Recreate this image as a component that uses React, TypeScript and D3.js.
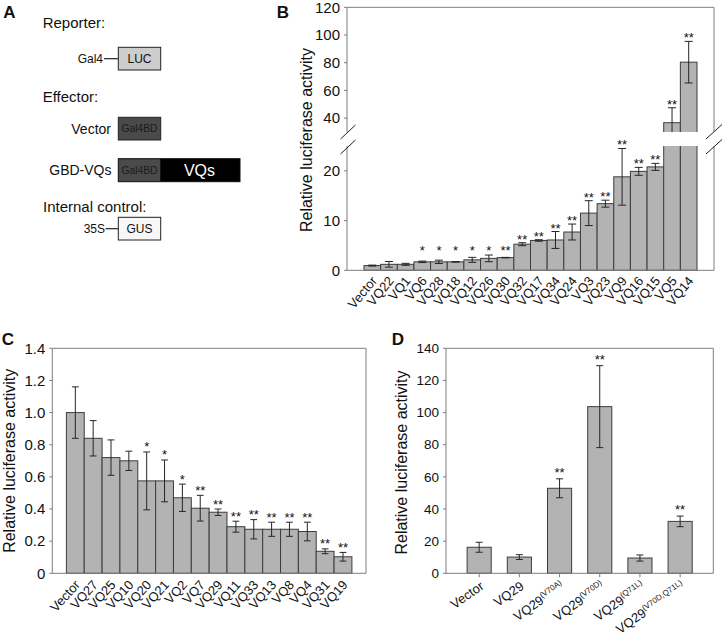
import React from "react";
import * as d3 from "d3";

// ---------- Panel B data ----------
const catsB = ["Vector","VQ22","VQ1","VQ6","VQ28","VQ18","VQ12","VQ26","VQ30","VQ32","VQ17","VQ34","VQ24","VQ3","VQ23","VQ9","VQ16","VQ15","VQ5","VQ14"];
const valsB = [0.95,1.2,1.2,1.7,1.7,1.7,2.1,2.4,2.55,5.25,6.0,6.1,7.7,11.5,13.4,18.8,19.9,20.8,36.7,80.4];
const errsB = [0.1,0.57,0.2,0.15,0.34,0.05,0.5,0.67,0.05,0.3,0.15,1.7,1.6,2.5,0.7,5.7,0.8,0.7,10.8,15];
const sigB = ["","","","*","*","*","*","*","**","**","**","**","**","**","**","**","**","**","**","**"];
const ticksBLow = [0,10,20];
const ticksBHigh = [40,60,80,100,120];

// ---------- Panel C data ----------
const catsC = ["Vector","VQ27","VQ25","VQ10","VQ20","VQ21","VQ2","VQ7","VQ29","VQ11","VQ33","VQ13","VQ8","VQ4","VQ31","VQ19"];
const valsC = [1.0,0.84,0.72,0.70,0.575,0.575,0.47,0.405,0.38,0.29,0.274,0.274,0.274,0.26,0.137,0.103];
const errsC = [0.16,0.11,0.11,0.06,0.18,0.13,0.085,0.08,0.02,0.034,0.06,0.044,0.044,0.058,0.015,0.027];
const sigC = ["","","","","*","*","*","**","**","**","**","**","**","**","**","**"];
const ticksC = [0,0.2,0.4,0.6,0.8,1.0,1.2,1.4];

// ---------- Panel D data ----------
const catsD = ["Vector","VQ29","VQ29(V70A)","VQ29(V70D)","VQ29(Q71L)","VQ29(V70D,Q71L)"];
const mainD = ["Vector","VQ29","VQ29","VQ29","VQ29","VQ29"];
const supD = ["","","(V70A)","(V70D)","(Q71L)","(V70D,Q71L)"];
const valsD = [16.2,10.1,52.9,103.7,9.5,32.3];
const errsD = [3.1,1.5,5.9,25.5,1.9,3.3];
const sigD = ["","","**","**","","**"];
const ticksD = [0,20,40,60,80,100,120,140];

const FONT = "'Liberation Sans', Arial, Helvetica, sans-serif";
const BAR_FILL = "#b3b3b3";
const BAR_STROKE = "#3d3d3d";
const AXIS = "#7d7d7d";
const ERR = "#262626";
const TXT = "#111";

function PanelA() {
  return (
    <g fontFamily={FONT} fill={TXT}>
      <text x={3.3} y={18.3} fontSize={17} fontWeight="bold">A</text>
      <text x={42.7} y={28.3} fontSize={15}>Reporter:</text>
      <text x={103} y={62.7} fontSize={12} textAnchor="end">Gal4</text>
      <line x1={104} x2={118.3} y1={58.7} y2={58.7} stroke="#222" strokeWidth={1.2} />
      <rect x={118.3} y={47.3} width={42.4} height={22.7} fill="#cdcdcd" stroke="#222" strokeWidth={1} />
      <text x={139.5} y={63} fontSize={12} textAnchor="middle">LUC</text>

      <text x={42.7} y={101.7} fontSize={15}>Effector:</text>
      <text x={111} y={133.5} fontSize={14} textAnchor="end">Vector</text>
      <rect x={118.3} y={117.3} width={42.4} height={22.7} fill="#4a4a4a" stroke="#222" strokeWidth={1} />
      <text x={139.5} y={132.3} fontSize={10.3} textAnchor="middle" fill="#1a1a1a">Gal4BD</text>

      <text x={111.5} y={175.2} fontSize={14} textAnchor="end">GBD-VQs</text>
      <rect x={118.3} y={158.7} width={121.7} height={23} fill="#000" stroke="#111" strokeWidth={1} />
      <rect x={118.8} y={159.2} width={41.5} height={22} fill="#4a4a4a" />
      <text x={139.5} y={173.8} fontSize={10.3} textAnchor="middle" fill="#1a1a1a">Gal4BD</text>
      <text x={199.5} y={176} fontSize={16} textAnchor="middle" fill="#fff">VQs</text>

      <text x={43} y={211.7} fontSize={15}>Internal control:</text>
      <text x={105} y={233} fontSize={12} textAnchor="end">35S</text>
      <line x1={105.5} x2={118.3} y1={228.7} y2={228.7} stroke="#222" strokeWidth={1.2} />
      <rect x={118.3} y={217.3} width={42.4} height={22.7} fill="#f7f7f7" stroke="#222" strokeWidth={1} />
      <text x={139.5} y={233} fontSize={12} textAnchor="middle">GUS</text>
    </g>
  );
}

function PanelB() {
  const left = 347, right = 714, top = 7.3, bottom = 270.3;
  const lowTop = 146, highBot = 132;
  const x = d3.scaleBand<string>().domain(catsB).range([left, right]).paddingInner(0).paddingOuter(1.02);
  const yLow = d3.scaleLinear().domain([0, 25]).range([bottom, lowTop]);
  const yHigh = d3.scaleLinear().domain([30, 120]).range([highBot, top]);
  const yGap = d3.scaleLinear().domain([25, 30]).range([lowTop, highBot]);
  const yAny = (v: number) => (v <= 25 ? yLow(v) : v >= 30 ? yHigh(v) : yGap(v));
  const bw = x.bandwidth();
  const cap = 4;
  const g = 139;
  return (
    <g fontFamily={FONT} fill={TXT}>
      <defs>
        <clipPath id="clipB">
          <rect x={0} y={0} width={722} height={highBot} />
          <rect x={0} y={lowTop} width={722} height={140} />
        </clipPath>
      </defs>
      <text x={276.7} y={18.3} fontSize={17} fontWeight="bold">B</text>
      {/* frame */}
      <line x1={left} x2={right} y1={top} y2={top} stroke={AXIS} />
      <line x1={right} x2={right} y1={top} y2={highBot} stroke={AXIS} />
      <line x1={right} x2={right} y1={lowTop} y2={bottom} stroke={AXIS} />
      {/* bars */}
      <g clipPath="url(#clipB)">
        {catsB.map((c, i) => (
          <rect key={c} x={x(c)!} y={yAny(valsB[i])} width={bw} height={bottom - yAny(valsB[i])}
            fill={BAR_FILL} stroke={BAR_STROKE} strokeWidth={1} />
        ))}
        {catsB.map((c, i) => {
          const cx = x(c)! + bw / 2;
          const hi = yAny(valsB[i] + errsB[i]);
          const lo = yAny(valsB[i] - errsB[i]);
          return (
            <g key={c} stroke={ERR} strokeWidth={1}>
              <line x1={cx} x2={cx} y1={hi} y2={lo} />
              <line x1={cx - cap} x2={cx + cap} y1={hi} y2={hi} />
              <line x1={cx - cap} x2={cx + cap} y1={lo} y2={lo} />
            </g>
          );
        })}
      </g>
      {/* stars */}
      {catsB.map((c, i) => sigB[i] ? (
        <text key={c} x={x(c)! + bw / 2} y={Math.min(yAny(valsB[i] + errsB[i]) + 1, yLow(3))}
          fontSize={13} textAnchor="middle">{sigB[i]}</text>
      ) : null)}
      {/* axes */}
      <line x1={left} x2={left} y1={top} y2={highBot} stroke={AXIS} />
      <line x1={left} x2={left} y1={lowTop} y2={bottom} stroke={AXIS} />
      <line x1={left} x2={right} y1={bottom} y2={bottom} stroke={AXIS} />
      {/* break marks */}
      <g stroke="#222" strokeWidth={1}>
        <line x1={left - 6.5} y1={g} x2={left + 8.5} y2={g - 14} />
        <line x1={left - 6.5} y1={g + 15} x2={left + 8.5} y2={g + 1} />
        <line x1={right - 8} y1={g} x2={right + 8} y2={g - 14.5} />
        <line x1={right - 8} y1={g + 15} x2={right + 8} y2={g + 0.5} />
      </g>
      {ticksBLow.map(t => (
        <g key={"l" + t}>
          <line x1={left - 3} x2={left} y1={yLow(t)} y2={yLow(t)} stroke={AXIS} />
          <text x={left - 7} y={yLow(t)} dy="0.35em" fontSize={15} textAnchor="end">{t}</text>
        </g>
      ))}
      {ticksBHigh.map(t => (
        <g key={"h" + t}>
          <line x1={left - 3} x2={left} y1={yHigh(t)} y2={yHigh(t)} stroke={AXIS} />
          <text x={left - 7} y={yHigh(t)} dy="0.35em" fontSize={15} textAnchor="end">{t}</text>
        </g>
      ))}
      <text transform={`translate(311.5,140) rotate(-90)`} fontSize={16} textAnchor="middle">Relative luciferase activity</text>
      {catsB.map(c => (
        <text key={c} transform={`translate(${x(c)! + bw / 2 + 2},${bottom + 8}) rotate(-50)`}
          dy="0.35em" fontSize={13} textAnchor="end">{c}</text>
      ))}
    </g>
  );
}

function PanelC() {
  const left = 52.3, right = 366, top = 348.3, bottom = 573.3;
  const x = d3.scaleBand<string>().domain(catsC).range([left, right]).paddingInner(0).paddingOuter(0.79);
  const y = d3.scaleLinear().domain([0, 1.4]).range([bottom, top]);
  const bw = x.bandwidth();
  const cap = 3.4;
  return (
    <g fontFamily={FONT} fill={TXT}>
      <text x={1.7} y={345} fontSize={17} fontWeight="bold">C</text>
      <line x1={left} x2={right} y1={top} y2={top} stroke={AXIS} />
      <line x1={right} x2={right} y1={top} y2={bottom} stroke={AXIS} />
      {catsC.map((c, i) => (
        <rect key={c} x={x(c)!} y={y(valsC[i])} width={bw} height={bottom - y(valsC[i])}
          fill={BAR_FILL} stroke={BAR_STROKE} strokeWidth={1} />
      ))}
      {catsC.map((c, i) => {
        const cx = x(c)! + bw / 2;
        const hi = y(valsC[i] + errsC[i]);
        const lo = y(valsC[i] - errsC[i]);
        return (
          <g key={c} stroke={ERR} strokeWidth={1}>
            <line x1={cx} x2={cx} y1={hi} y2={lo} />
            <line x1={cx - cap} x2={cx + cap} y1={hi} y2={hi} />
            <line x1={cx - cap} x2={cx + cap} y1={lo} y2={lo} />
          </g>
        );
      })}
      {catsC.map((c, i) => sigC[i] ? (
        <text key={c} x={x(c)! + bw / 2} y={y(valsC[i] + errsC[i]) - 0.5}
          fontSize={13} textAnchor="middle">{sigC[i]}</text>
      ) : null)}
      <line x1={left} x2={left} y1={top} y2={bottom} stroke={AXIS} />
      <line x1={left} x2={right} y1={bottom} y2={bottom} stroke={AXIS} />
      {ticksC.map(t => (
        <g key={t}>
          <line x1={left - 3} x2={left} y1={y(t)} y2={y(t)} stroke={AXIS} />
          <text x={left - 7} y={y(t)} dy="0.35em" fontSize={15} textAnchor="end">{t === 0 ? "0" : t.toFixed(1)}</text>
        </g>
      ))}
      <text transform={`translate(15,460.8) rotate(-90)`} fontSize={16} textAnchor="middle">Relative luciferase activity</text>
      {catsC.map(c => (
        <text key={c} transform={`translate(${x(c)! + bw / 2 + 2},${bottom + 9}) rotate(-48)`}
          dy="0.35em" fontSize={13} textAnchor="end">{c}</text>
      ))}
    </g>
  );
}

function PanelD() {
  const left = 446, right = 713.3, top = 348.3, bottom = 573.3;
  const x = d3.scaleBand<string>().domain(catsD).range([left, right]).paddingInner(0.4).paddingOuter(0.525);
  const y = d3.scaleLinear().domain([0, 140]).range([bottom, top]);
  const bw = x.bandwidth();
  const cap = 3.5;
  return (
    <g fontFamily={FONT} fill={TXT}>
      <text x={391.7} y={345} fontSize={17} fontWeight="bold">D</text>
      <line x1={left} x2={right} y1={top} y2={top} stroke={AXIS} />
      <line x1={right} x2={right} y1={top} y2={bottom} stroke={AXIS} />
      {catsD.map((c, i) => (
        <rect key={c} x={x(c)!} y={y(valsD[i])} width={bw} height={bottom - y(valsD[i])}
          fill={BAR_FILL} stroke={BAR_STROKE} strokeWidth={1} />
      ))}
      {catsD.map((c, i) => {
        const cx = x(c)! + bw / 2;
        const hi = y(valsD[i] + errsD[i]);
        const lo = y(valsD[i] - errsD[i]);
        return (
          <g key={c} stroke={ERR} strokeWidth={1}>
            <line x1={cx} x2={cx} y1={hi} y2={lo} />
            <line x1={cx - cap} x2={cx + cap} y1={hi} y2={hi} />
            <line x1={cx - cap} x2={cx + cap} y1={lo} y2={lo} />
          </g>
        );
      })}
      {catsD.map((c, i) => sigD[i] ? (
        <text key={c} x={x(c)! + bw / 2} y={y(valsD[i] + errsD[i]) - 2}
          fontSize={13} textAnchor="middle">{sigD[i]}</text>
      ) : null)}
      <line x1={left} x2={left} y1={top} y2={bottom} stroke={AXIS} />
      <line x1={left} x2={right} y1={bottom} y2={bottom} stroke={AXIS} />
      {catsD.map(c => (
        <line key={c} x1={x(c)! + bw / 2} x2={x(c)! + bw / 2} y1={bottom} y2={bottom + 4} stroke={AXIS} />
      ))}
      {ticksD.map(t => (
        <g key={t}>
          <line x1={left - 3} x2={left} y1={y(t)} y2={y(t)} stroke={AXIS} />
          <text x={left - 7} y={y(t)} dy="0.35em" fontSize={13.5} textAnchor="end">{t}</text>
        </g>
      ))}
      <text transform={`translate(407.3,462.5) rotate(-90)`} fontSize={16} textAnchor="middle">Relative luciferase activity</text>
      {catsD.map((c, i) => (
        <text key={c} transform={`translate(${x(c)! + bw / 2 + 3},${bottom + 11}) rotate(-35)`}
          dy="0.35em" fontSize={13} textAnchor="end">
          <tspan>{mainD[i]}</tspan>
          {supD[i] ? <tspan dy={-5} fontSize={8}>{supD[i]}</tspan> : null}
        </text>
      ))}
    </g>
  );
}

export default function App() {
  return (
    <svg width={722} height={644} viewBox="0 0 722 644"
      style={{ position: "absolute", left: 0, top: 0, background: "#fff" }}>
      <rect x={0} y={0} width={722} height={644} fill="#fff" />
      <PanelA />
      <PanelB />
      <PanelC />
      <PanelD />
    </svg>
  );
}
